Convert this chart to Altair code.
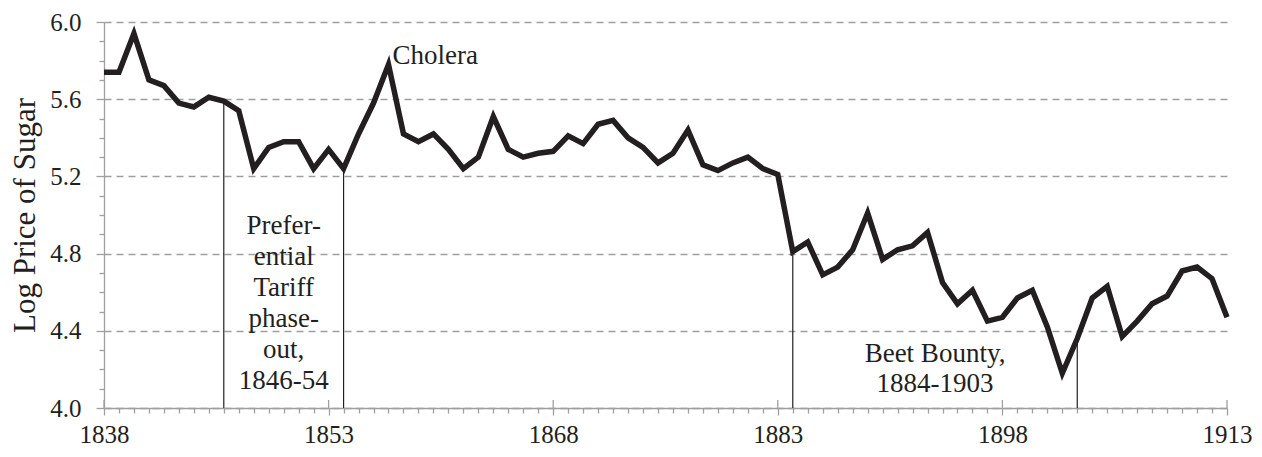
import altair as alt
import pandas as pd

# ---- data ----
years = list(range(1838, 1914))
log_price = [
    5.74, 5.74, 5.94, 5.70, 5.67, 5.58, 5.56, 5.61, 5.59, 5.54,   # 1838-1847
    5.24, 5.35, 5.38, 5.38, 5.24, 5.34, 5.24, 5.42, 5.58, 5.78,   # 1848-1857
    5.42, 5.38, 5.42, 5.34, 5.24, 5.30, 5.51, 5.34, 5.30, 5.32,   # 1858-1867
    5.33, 5.41, 5.37, 5.47, 5.49, 5.40, 5.35, 5.27, 5.32, 5.44,   # 1868-1877
    5.26, 5.23, 5.27, 5.30, 5.24, 5.21, 4.81, 4.86, 4.69, 4.73,   # 1878-1887
    4.82, 5.01, 4.77, 4.82, 4.84, 4.91, 4.65, 4.54, 4.61, 4.45,   # 1888-1897
    4.47, 4.57, 4.61, 4.42, 4.18, 4.36, 4.57, 4.63, 4.37, 4.45,   # 1898-1907
    4.54, 4.58, 4.71, 4.73, 4.67, 4.47,                           # 1908-1913
]
event_years = [1846, 1854, 1884, 1903]
major_years = [1838, 1853, 1868, 1883, 1898, 1913]
y_tick_values = [4.0, 4.1, 4.2, 4.3, 4.4, 4.5, 4.6, 4.7, 4.8, 4.9, 5.0,
                 5.1, 5.2, 5.3, 5.4, 5.5, 5.6, 5.7, 5.8, 5.9, 6.0]

cholera_year = 1857
pref_label = ["Prefer-", "ential", "Tariff", "phase-", "out,", "1846-54"]
pref_x, pref_y = 1850, 4.90
beet_label = ["Beet Bounty,", "1884-1903"]
beet_x, beet_y = 1893.5, 4.236

df = pd.DataFrame({"year": years, "price": log_price})
ev = df[df["year"].isin(event_years)]
chol = df[df["year"] == cholera_year].assign(label="Cholera")
pref = pd.DataFrame({"year": [pref_x], "price": [pref_y], "label": [pref_label]})
beet = pd.DataFrame({"year": [beet_x], "price": [beet_y], "label": [beet_label]})
majors = pd.DataFrame({"year": major_years})

# ---- style ----
W, H = 1123, 386
FONT = "Liberation Serif"
INK = "#231f20"
GRAY = "#9f9f9f"

x_scale = alt.Scale(domain=[1838, 1913], nice=False, zero=False)
y_scale = alt.Scale(domain=[4.0, 6.0], nice=False, zero=False)

is_major_x = "(datum.value - 1838) % 15 == 0"
is_major_y = "round(datum.value * 10) % 4 == 0"

x_axis = alt.Axis(
    values=years, format="d",
    labelExpr=f"{is_major_x} ? datum.label : ''",
    title=None, grid=False,
    domainColor=GRAY, domainWidth=1.3,
    tickColor=GRAY, tickWidth=1.3,
    tickSize={"condition": {"test": is_major_x, "value": 7}, "value": 5},
    labelFont=FONT, labelFontSize=25, labelColor=INK,
    labelPadding=7, labelOverlap=False, labelFlush=False,
)
y_axis = alt.Axis(
    values=y_tick_values, format=".1f",
    labelExpr=f"{is_major_y} ? datum.label : ''",
    title="Log Price of Sugar",
    titleFont=FONT, titleFontSize=31, titleColor=INK, titleFontWeight="normal",
    titleAngle=270, titleX=-70, titleY=H / 2, titleAlign="center",
    titleBaseline="alphabetic",
    grid=True, gridColor=GRAY, gridDash=[7, 5], gridWidth=1.3,
    gridOpacity={"condition": {"test": is_major_y, "value": 1}, "value": 0},
    domainColor=GRAY, domainWidth=1.3,
    tickColor=GRAY, tickWidth=1.3,
    tickSize={"condition": {"test": is_major_y, "value": 8}, "value": 5},
    labelFont=FONT, labelFontSize=25, labelColor=INK,
    labelPadding=15, labelOverlap=False, labelFlush=False,
)

X = alt.X("year:Q", scale=x_scale, axis=x_axis)
Y = alt.Y("price:Q", scale=y_scale, axis=y_axis)

line = alt.Chart(df).mark_line(
    color=INK, strokeWidth=5.5, strokeJoin="miter", strokeCap="butt"
).encode(x=X, y=Y)

major_up = alt.Chart(majors).mark_rule(color=GRAY, strokeWidth=1.3).encode(
    x=X,
    y=alt.value(H - 8),
    y2=alt.value(H),
)

events = alt.Chart(ev).mark_rule(color=INK, strokeWidth=1.2).encode(
    x=X, y=Y, y2=alt.datum(4.0),
)

text_style = dict(font=FONT, fontSize=27, color=INK)

chol_text = alt.Chart(chol).mark_text(
    align="left", baseline="alphabetic", dx=4, **text_style
).encode(x=X, y=Y, text="label:N")

pref_text = alt.Chart(pref).mark_text(
    align="center", baseline="alphabetic", lineHeight=31, **text_style
).encode(x=X, y=Y, text="label")

beet_text = alt.Chart(beet).mark_text(
    align="center", baseline="alphabetic", lineHeight=30, **text_style
).encode(x=X, y=Y, text="label")

chart = alt.layer(
    line, major_up, events, chol_text, pref_text, beet_text
).properties(
    width=W, height=H,
    padding={"left": 96, "top": 14, "right": 27, "bottom": 41},
    autosize=alt.AutoSizeParams(type="none"),
    background="white",
).configure_view(strokeWidth=0)

chart.save("out.html", embed_options={"renderer": "svg", "actions": False})
